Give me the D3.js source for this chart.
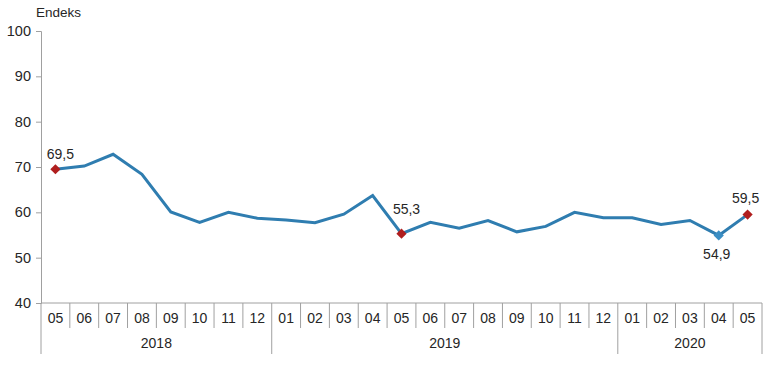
<!DOCTYPE html>
<head>
  <meta charset="utf-8">
  <style>
    body { margin:0; background:#fff; }
    text { font-family:"Liberation Sans", Arial, sans-serif; fill:#262626; }
  </style>
</head>
<body>
<script src="https://d3js.org/d3.v7.min.js"></script>
<script>
    // DATA
    var months = ["05","06","07","08","09","10","11","12",
                  "01","02","03","04","05","06","07","08","09","10","11","12",
                  "01","02","03","04","05"];
    var years = ["2018", "2019", "2020"];
    var yearSpans = [8, 12, 5];
    var values = [69.5, 70.2, 72.8, 68.4, 60.1, 57.8, 60.0, 58.7,
                  58.3, 57.7, 59.6, 63.7, 55.3, 57.8, 56.5, 58.2, 55.7, 56.9, 60.0, 58.8,
                  58.8, 57.3, 58.2, 54.9, 59.5];
    var yTicks = [40, 50, 60, 70, 80, 90, 100];
    // marked points
    var redIdx = [0, 12, 24];
    var blueIdx = [23];
    var labelled = [{i:0, dx:5, dy:-10}, {i:12, dx:5, dy:-20}, {i:23, dx:-2, dy:24}, {i:24, dx:-2, dy:-12}];

    var width = 770, height = 374;
    var mLeft = 41, mRight = 762, mTop = 31, mBottom = 303;

    var svg = d3.select("body").append("svg")
      .attr("width", width).attr("height", height);

    var x = d3.scaleBand().domain(d3.range(months.length)).range([mLeft, mRight]);
    var y = d3.scaleLinear().domain([40, 100]).range([mBottom, mTop]);

    // Y AXIS
    var yAxis = svg.append("g")
      .attr("transform", "translate(" + mLeft + ",0)")
      .call(d3.axisLeft(y).tickValues(yTicks).tickSize(5).tickPadding(5));
    yAxis.select(".domain").attr("stroke", "#a0a0a0");
    yAxis.selectAll("line").attr("stroke", "#a0a0a0");
    yAxis.selectAll("text")
      .style("font-size", "14.5px")
      .style("font-family", "'Liberation Sans', Arial, sans-serif")
      .attr("fill", "#262626");

    svg.append("text")
      .attr("x", 36).attr("y", 17)
      .style("font-size", "13.5px")
      .text("Endeks");

    // X AXIS
    svg.append("line")
      .attr("x1", mLeft).attr("x2", mRight)
      .attr("y1", mBottom).attr("y2", mBottom)
      .attr("stroke", "#a0a0a0");

    // month separators, longer at year boundaries
    var cum = [0];
    yearSpans.forEach(function(s, k) { cum.push(cum[k] + s); });
    d3.range(months.length + 1).forEach(function(i) {
      var xx = i < months.length ? x(i) : mRight;
      var isYear = cum.indexOf(i) >= 0;
      svg.append("line")
        .attr("x1", xx).attr("x2", xx)
        .attr("y1", mBottom).attr("y2", isYear ? 354 : 328)
        .attr("stroke", "#a0a0a0");
    });

    svg.selectAll("text.month")
      .data(months).enter().append("text")
      .attr("class", "month")
      .attr("x", function(d, i) { return x(i) + x.bandwidth() / 2; })
      .attr("y", 323)
      .attr("text-anchor", "middle")
      .style("font-size", "14px")
      .text(function(d) { return d; });

    svg.selectAll("text.year")
      .data(years).enter().append("text")
      .attr("class", "year")
      .attr("x", function(d, k) {
        var a = x(cum[k]), b = cum[k + 1] < months.length ? x(cum[k + 1]) : mRight;
        return (a + b) / 2;
      })
      .attr("y", 348)
      .attr("text-anchor", "middle")
      .style("font-size", "14px")
      .text(function(d) { return d; });

    // LINE
    var cx = function(i) { return x(i) + x.bandwidth() / 2; };
    var line = d3.line()
      .x(function(d, i) { return cx(i); })
      .y(function(d) { return y(d); });

    svg.append("path")
      .datum(values)
      .attr("d", line)
      .attr("fill", "none")
      .attr("stroke", "#2f7db0")
      .attr("stroke-width", 3);

    var diamond = d3.symbol().type(d3.symbolSquare).size(52);
    var place = function(i) { return "translate(" + cx(i) + "," + y(values[i]) + ") rotate(45)"; };

    svg.selectAll("path.red")
      .data(redIdx).enter().append("path")
      .attr("d", diamond)
      .attr("transform", place)
      .attr("fill", "#b01e1e");

    svg.selectAll("path.blue")
      .data(blueIdx).enter().append("path")
      .attr("d", diamond)
      .attr("transform", place)
      .attr("fill", "#3b8ec4");

    svg.selectAll("text.lbl")
      .data(labelled).enter().append("text")
      .attr("x", function(d) { return cx(d.i) + d.dx; })
      .attr("y", function(d) { return y(values[d.i]) + d.dy; })
      .attr("text-anchor", "middle")
      .style("font-size", "14px")
      .text(function(d) { return String(values[d.i]).replace(".", ","); });
</script>
</body>
